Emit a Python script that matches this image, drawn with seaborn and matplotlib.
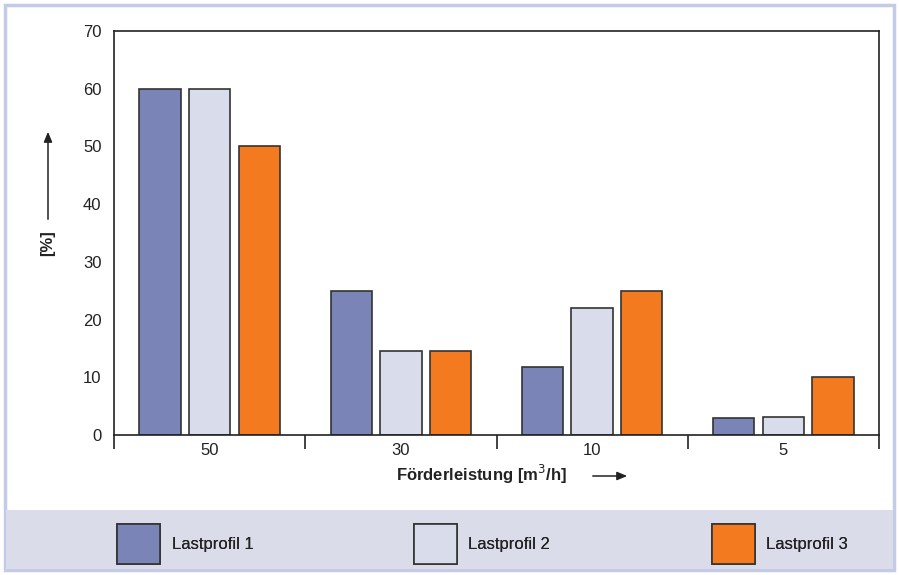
import matplotlib
matplotlib.use("Agg")
import matplotlib.pyplot as plt
from matplotlib.patches import Rectangle, FancyArrowPatch
from matplotlib.ticker import FixedLocator
import seaborn as sns
import pandas as pd

# Förderleistung classes and share of operating time per load profile
categories = ["50", "30", "10", "5"]
profiles = ["Lastprofil 1", "Lastprofil 2", "Lastprofil 3"]
lastprofil_1 = [60, 25, 11.7, 3.0]
lastprofil_2 = [60, 14.5, 22, 3.2]
lastprofil_3 = [50, 14.5, 25, 10]
y_ticks = [0, 10, 20, 30, 40, 50, 60, 70]

colors = ["#7A84B6", "#D9DCEA", "#F47A20"]

df = pd.DataFrame({
    "Förderleistung": categories * 3,
    "Anteil": lastprofil_1 + lastprofil_2 + lastprofil_3,
    "Profil": [p for p in profiles for _ in categories],
})

sns.set_style("white")
plt.rcParams["font.family"] = ["Liberation Sans Narrow", "Liberation Sans", "DejaVu Sans"]

W, H = 899, 575
fig = plt.figure(figsize=(W / 100, H / 100), dpi=100)
fig.patch.set_facecolor("white")

# outer frame and legend band
fig.add_artist(Rectangle((5 / W, 5 / H), 1 - 10 / W, 1 - 10 / H, transform=fig.transFigure,
                         facecolor="none", edgecolor="#C5CAE6", linewidth=2.5, zorder=0))
fig.add_artist(Rectangle((6 / W, 6 / H), 1 - 12 / W, (575 - 510 - 6) / H, transform=fig.transFigure,
                         facecolor="#DADCEA", edgecolor="none", zorder=0))

ax = fig.add_axes([114 / W, (H - 435) / H, (879 - 114) / W, (435 - 31) / H])
sns.barplot(data=df, x="Förderleistung", y="Anteil", hue="Profil", order=categories,
            hue_order=profiles, palette=colors, width=0.78, gap=0.17,
            edgecolor="#333333", linewidth=1.2, saturation=1, ax=ax)

handles, labels = ax.get_legend_handles_labels()
ax.get_legend().remove()

ax.set_xlim(-0.5, len(categories) - 0.5)
ax.set_ylim(0, 70)
ax.set_yticks(y_ticks)
ax.tick_params(axis="y", length=0, pad=9, labelsize=12, colors="#222222")
ax.tick_params(axis="x", which="major", length=0, pad=6, labelsize=12, colors="#222222")
ax.xaxis.set_minor_locator(FixedLocator([i - 0.5 for i in range(len(categories) + 1)]))
ax.tick_params(axis="x", which="minor", bottom=True, length=10, width=1.2, direction="out", color="#222222")
ax.set_xlabel("")
ax.set_ylabel("")
for s in ax.spines.values():
    s.set_color("#222222")
    s.set_linewidth(1.2)
    s.set_visible(True)

# axis titles with arrows
fig.text(481 / W, 1 - 474 / H, "Förderleistung [m$^3$/h]", ha="center", va="center",
         fontsize=12, fontweight="bold", color="#222222")
fig.text(48 / W, 1 - 243 / H, "[%]", ha="center", va="center", rotation=90,
         fontsize=12, fontweight="bold", color="#222222")
fig.add_artist(FancyArrowPatch((590 / W, 1 - 476 / H), (630 / W, 1 - 476 / H),
               transform=fig.transFigure, arrowstyle="-|>,head_length=6,head_width=2.5",
               color="#222222", linewidth=1.1, mutation_scale=1))
fig.add_artist(FancyArrowPatch((48 / W, 1 - 222 / H), (48 / W, 1 - 129 / H),
               transform=fig.transFigure, arrowstyle="-|>,head_length=6,head_width=2.5",
               color="#222222", linewidth=1.1, mutation_scale=1))

# legend entries spread across the band
for h, lab, x0 in zip(handles, labels, [109, 406, 704]):
    leg = fig.legend([h], [lab], loc="center left", bbox_to_anchor=(x0 / W, 1 - 544 / H),
                     frameon=False, fontsize=12, handlelength=2.55, handleheight=3.4,
                     handletextpad=0.7, borderpad=0, labelcolor="#222222")
    fig.add_artist(leg)

fig.savefig("out.png", dpi=100)
